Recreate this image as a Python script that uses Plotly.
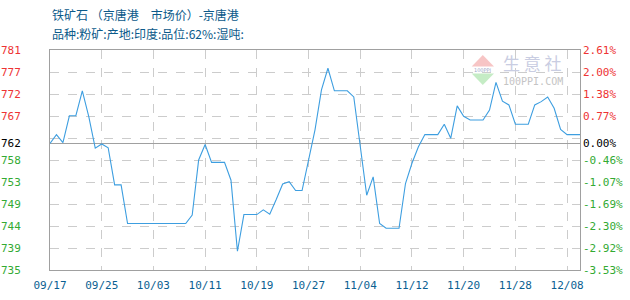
import plotly.graph_objects as go

# ---- data ----
tick_dates = ["09/17", "09/25", "10/03", "10/11", "10/19", "10/27",
              "11/04", "11/12", "11/20", "11/28", "12/08"]
prices = [761.5, 763.4, 761.7, 767.4, 767.4, 772.7, 767.2, 760.5, 761.4, 760.6,
          752.7, 752.7, 744.5, 744.5, 744.5, 744.5, 744.5, 744.5, 744.5, 744.5,
          744.5, 744.5, 746.3, 758.0, 761.3, 757.5, 757.5, 757.5, 753.7, 738.6,
          746.4, 746.4, 746.4, 747.4, 746.5, 749.6, 752.9, 753.4, 751.5, 751.5,
          758.0, 764.4, 772.9, 777.5, 772.7, 772.7, 772.7, 771.4, 760.8, 750.5,
          754.4, 744.5, 743.5, 743.5, 743.5, 753.0, 757.3, 760.8, 763.4, 763.4,
          763.4, 765.6, 762.6, 769.5, 767.3, 766.5, 766.5, 766.5, 768.6, 774.5,
          770.5, 769.7, 765.6, 765.6, 765.6, 769.7, 770.4, 771.4, 769.0, 764.5,
          763.4, 763.4, 763.4]
base_price = 761.5
left_labels = ["781", "777", "772", "767", "758", "753", "749", "744", "739", "735"]
right_labels = ["2.61%", "2.00%", "1.38%", "0.77%", "-0.46%", "-1.07%",
                "-1.69%", "-2.30%", "-2.92%", "-3.53%"]
pct_top, pct_bottom = 2.61, -3.53

title = "铁矿石 （京唐港　市场价）-京唐港"
subtitle = "品种:粉矿:产地:印度:品位:62%:湿吨:"

# ---- derived scales ----
n = len(prices)
xs = list(range(n))
hi = base_price * (1 + pct_top / 100)
lo = base_price * (1 + pct_bottom / 100)
grid_prices = [hi - (hi - lo) * k / 10 for k in range(11)]
grid_pcts = [pct_top - (pct_top - pct_bottom) * k / 10 for k in range(11)]

RED, GREEN, BLACK = "#ee3333", "#33aa33", "#000000"

def col(t, c):
    return f'<span style="color:{c}">{t}</span>'

l_vals, l_text = [], []
li = 0
for k, p in enumerate(grid_prices):
    l_vals.append(p)
    if k == 4:
        l_text.append("")
    else:
        l_text.append(col(left_labels[li], RED if k < 4 else GREEN))
        li += 1
l_vals.append(base_price)
l_text.append(col(str(round(base_price + 0.0001)), BLACK))

r_vals, r_text = [], []
ri = 0
for k, p in enumerate(grid_pcts):
    if k == 4:
        r_vals.append(0.0)
        r_text.append(col("0.00%", BLACK))
    else:
        r_vals.append(p)
        r_text.append(col(right_labels[ri], RED if k < 4 else GREEN))
        ri += 1

fig = go.Figure()
fig.add_trace(go.Scatter(x=xs, y=prices, mode="lines",
                         line=dict(color="#3d9ee0", width=1.1),
                         hoverinfo="skip", showlegend=False))
fig.add_trace(go.Scatter(x=[0], y=[0], yaxis="y2", mode="markers",
                         marker=dict(opacity=0), hoverinfo="skip", showlegend=False))

tickfont = dict(family="DejaVu Sans Mono", size=11)
border = "#a0a0a0"
fig.update_layout(
    width=630, height=300,
    margin=dict(l=50, r=50, t=50, b=30),
    paper_bgcolor="white", plot_bgcolor="white",
    xaxis=dict(range=[0, n - 1], tickvals=list(range(0, 8 * len(tick_dates), 8)),
               ticktext=tick_dates, showgrid=True, gridcolor="#cccccc",
               griddash="dash", gridwidth=1, zeroline=False,
               showline=True, linecolor=border, linewidth=1, mirror=True,
               ticks="", tickfont=dict(family="DejaVu Sans Mono", size=11, color="#0b5f92"),
               ticklabelstandoff=5, automargin=False, fixedrange=True),
    yaxis=dict(range=[lo, hi], tickvals=l_vals, ticktext=l_text,
               showgrid=True, gridcolor="#cccccc", griddash="dash", gridwidth=1,
               zeroline=False, showline=True, linecolor=border, linewidth=1,
               mirror=True, ticks="", tickfont=tickfont, ticklabelstandoff=26,
               automargin=False, fixedrange=True),
    yaxis2=dict(range=[pct_bottom, pct_top], overlaying="y", side="right",
                tickvals=r_vals, ticktext=r_text, showgrid=False,
                zeroline=True, zerolinecolor=border, zerolinewidth=1,
                showline=False, ticks="", tickfont=tickfont,
                ticklabelstandoff=2, automargin=False, fixedrange=True),
)

def px(x):
    return (x - 50) / 530

def py(y):
    return (270 - y) / 220

fig.add_annotation(text=title, xref="paper", yref="paper", x=0, y=py(15),
                   xanchor="left", yanchor="middle", showarrow=False,
                   font=dict(family="Noto Sans CJK SC", size=12, color="#0b5a8a"))
fig.add_annotation(text=subtitle, xref="paper", yref="paper", x=0, y=py(34),
                   xanchor="left", yanchor="middle", showarrow=False,
                   font=dict(family="Noto Sans CJK SC", size=12, color="#0b5a8a"))

# watermark
fig.add_shape(type="path", xref="paper", yref="paper", layer="below",
              path=f"M {px(471.7)} {py(66.5)} L {px(494)} {py(66.5)} L {px(482.8)} {py(55)} Z",
              fillcolor="rgba(240,150,150,0.55)", line=dict(width=0))
fig.add_shape(type="path", xref="paper", yref="paper", layer="below",
              path=f"M {px(471.7)} {py(73.5)} L {px(494)} {py(73.5)} L {px(482.8)} {py(85)} Z",
              fillcolor="rgba(150,220,150,0.55)", line=dict(width=0))
fig.add_annotation(text="100PPI", xref="paper", yref="paper", x=px(482.8), y=py(70),
                   xanchor="center", yanchor="middle", showarrow=False,
                   font=dict(family="DejaVu Sans", size=5, color="#9aa6c8"))
fig.add_annotation(text="生 意 社", xref="paper", yref="paper", x=px(501), y=py(62.5),
                   xanchor="left", yanchor="middle", showarrow=False,
                   font=dict(family="Noto Sans CJK SC", size=17, color="#c9cde2"))
fig.add_annotation(text="100PPI.COM", xref="paper", yref="paper", x=px(501), y=py(81),
                   xanchor="left", yanchor="middle", showarrow=False,
                   font=dict(family="DejaVu Sans Mono", size=10, color="#c4c4c4"))

fig.write_html("out.html")
